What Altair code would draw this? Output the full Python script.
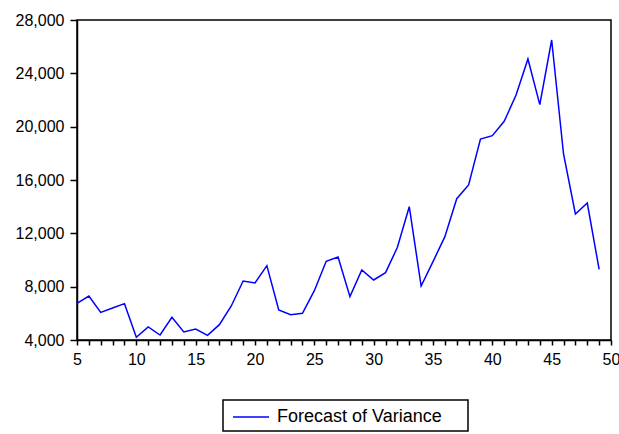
import altair as alt
import pandas as pd

# Forecast of variance by period
periods = list(range(5, 50))
variance = [
    6750, 7300, 6075, 6400, 6725, 4200, 4975, 4375, 5700, 4600,
    4825, 4350, 5150, 6550, 8425, 8275, 9575, 6250, 5900, 6000,
    7700, 9900, 10225, 7250, 9250, 8500, 9050, 10950, 14000, 8050,
    9875, 11750, 14600, 15625, 19075, 19325, 20400, 22375, 25075, 21650,
    26500, 17950, 13450, 14275, 9300,
]
series_name = "Forecast of Variance"
line_color = "#0000FF"
y_ticks = [4000, 8000, 12000, 16000, 20000, 24000, 28000]
x_ticks = list(range(5, 51))

df = pd.DataFrame({"period": periods, "value": variance})
legend_df = pd.DataFrame({"series": [series_name]})

font = "Liberation Sans"

line = (
    alt.Chart(df)
    .mark_line(strokeWidth=1.5, color=line_color)
    .encode(
        x=alt.X(
            "period:Q",
            scale=alt.Scale(domain=[5, 50], nice=False, zero=False),
            axis=alt.Axis(
                title=None,
                values=x_ticks,
                labelExpr="datum.value % 5 == 0 ? datum.label : ''",
                tickSize=5,
                tickColor="black",
                tickWidth=1.5,
                domainColor="black",
                domainWidth=1.5,
                labelFont=font,
                labelFontSize=16,
                labelColor="black",
                labelPadding=6,
                grid=False,
                labelFlush=False,
            ),
        ),
        y=alt.Y(
            "value:Q",
            scale=alt.Scale(domain=[4000, 28000], nice=False, zero=False),
            axis=alt.Axis(
                title=None,
                values=y_ticks,
                format=",d",
                tickSize=7,
                tickColor="black",
                tickWidth=1.5,
                domainColor="black",
                domainWidth=1.5,
                labelFont=font,
                labelFontSize=16,
                labelColor="black",
                labelPadding=6,
                grid=False,
            ),
        ),
    )
)

# Legend box below the plot
legend_box = (
    alt.Chart(legend_df)
    .mark_rect(fill="white", stroke="black", strokeWidth=1.5)
    .encode(
        x=alt.value(146), x2=alt.value(391),
        y=alt.value(380), y2=alt.value(411),
    )
)
legend_swatch = (
    alt.Chart(legend_df)
    .mark_rule(color=line_color, strokeWidth=1.5)
    .encode(x=alt.value(156), x2=alt.value(192), y=alt.value(397))
)
legend_label = (
    alt.Chart(legend_df)
    .mark_text(align="left", baseline="middle", font=font, fontSize=18, color="black")
    .encode(x=alt.value(200), y=alt.value(397), text="series:N")
)

chart = (
    alt.layer(line, legend_box, legend_swatch, legend_label)
    .properties(width=534, height=320)
    .configure_view(stroke="black", strokeWidth=1.5)
    .properties(
        autosize=alt.AutoSizeParams(type="none"),
        padding={"left": 77, "top": 20, "right": 8, "bottom": 94},
    )
)

chart.save("out.html", embed_options={"renderer": "svg", "actions": False})
